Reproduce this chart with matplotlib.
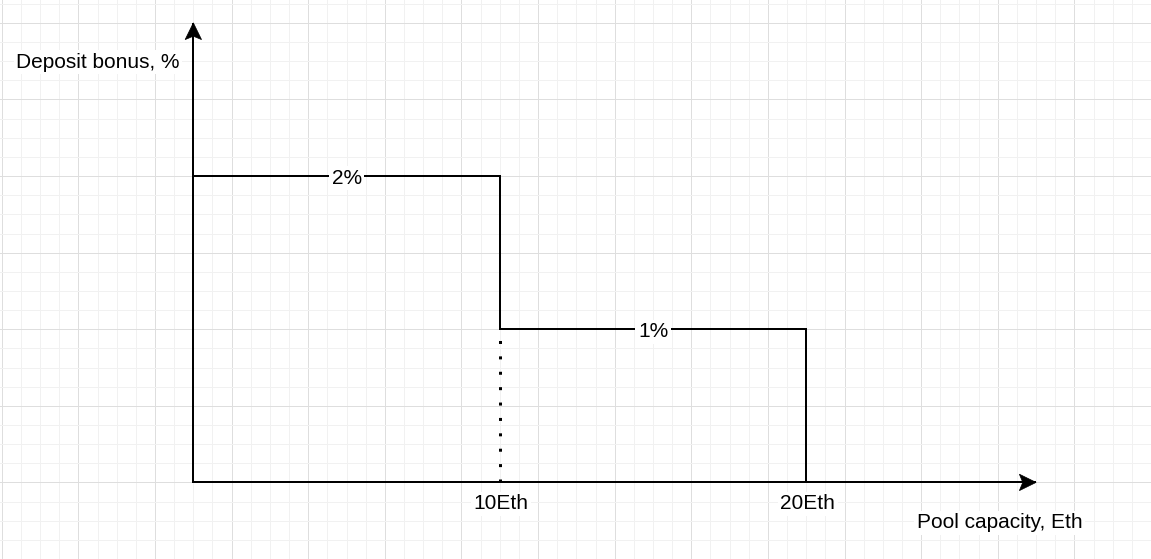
import numpy as np
import matplotlib
matplotlib.use("Agg")
import matplotlib.pyplot as plt
from matplotlib.patches import Polygon
from matplotlib.transforms import ScaledTranslation

plt.rcParams['font.family'] = ['Liberation Sans', 'DejaVu Sans']

# bonus tiers: bonus_pct[i] applies from capacity_eth[i] to capacity_eth[i+1]
capacity_eth = [0, 10, 20]
bonus_pct = [2, 1, 0]
tier_labels = ["2%", "1%"]
tick_labels = ["10Eth", "20Eth"]
x_axis_end = 27.5
y_axis_end = 3
x_label = "Pool capacity, Eth"
y_label = "Deposit bonus, %"

PX = 0.72  # points per pixel at dpi 100
FS = 15

fig = plt.figure(figsize=(11.51, 5.59), dpi=100)
ax = fig.add_axes([0, 0, 1, 1])
ax.set_xlim(-6.309, 31.122)
ax.set_ylim(-0.4805, 3.1494)

# background grid like the drawing canvas
ax.set_xticks(np.arange(-6.25, 31.3, 2.5))
ax.set_xticks(np.arange(-6.25, 31.3, 0.625), minor=True)
ax.set_yticks(np.arange(-0.5, 3.2, 0.5))
ax.set_yticks(np.arange(-0.5, 3.2, 0.125), minor=True)
ax.grid(which='major', color='#dedede', lw=1 * PX)
ax.grid(which='minor', color='#f1f1f1', lw=1 * PX)
ax.tick_params(which='both', length=0, labelbottom=False, labelleft=False)
ax.set_axisbelow(True)
for s in ax.spines.values():
    s.set_visible(False)

# step function of the bonus
ax.step(capacity_eth, bonus_pct, where='post', color='black',
        lw=2 * PX, solid_joinstyle='miter', zorder=3)

# dotted drop from the 10Eth tier change down to the axis
ax.plot([capacity_eth[1], capacity_eth[1]], [0, bonus_pct[1]], color='black',
        lw=3 * PX, linestyle=(0, (1, 4.13)), dash_capstyle='butt', zorder=3)

# axes with arrows
ax.plot([0, 0, x_axis_end], [y_axis_end, 0, 0], color='black',
        lw=2 * PX, solid_joinstyle='miter', solid_capstyle='butt', zorder=4)


def arrow_head(x, y, angle):
    verts = np.array([[0, 0], [-16.7, 8.2], [-13.3, 0], [-16.7, -8.2]])
    a = np.deg2rad(angle)
    rot = np.array([[np.cos(a), -np.sin(a)], [np.sin(a), np.cos(a)]])
    verts = verts @ rot.T
    head = Polygon(verts, closed=True, facecolor='black', edgecolor='black',
                   lw=0.5, transform=ScaledTranslation(x, y, ax.transData),
                   zorder=5)
    ax.add_patch(head)


arrow_head(x_axis_end, 0, 0)
arrow_head(0, y_axis_end, 90)

box = dict(facecolor='white', edgecolor='none', boxstyle='square,pad=0.12')


def label(text, xy, off):
    ax.annotate(text, xy=xy, xytext=off, textcoords='offset pixels',
                ha='center', va='baseline', fontsize=FS, color='black',
                bbox=box, zorder=6)


for i, t in enumerate(tier_labels):
    mid = (capacity_eth[i] + capacity_eth[i + 1]) / 2
    label(t, (mid, bonus_pct[i]), (0, -7.8))

for x, t in zip(capacity_eth[1:], tick_labels):
    label(t, (x, 0), (1.5, -27))

label(x_label, (x_axis_end, 0), (-36.6, -45.7))
label(y_label, (0, y_axis_end), (-95.5, -45))

fig.savefig("out.png", dpi=100, facecolor='white')
